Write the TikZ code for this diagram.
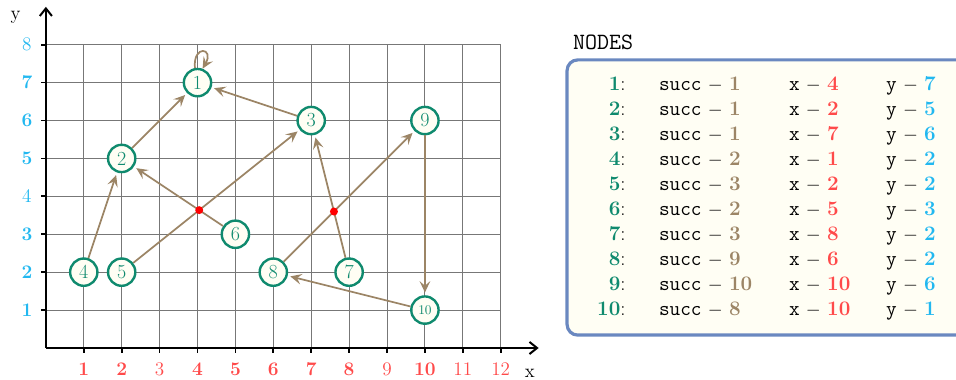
\documentclass[tikz,border=0pt]{standalone}
\usepackage{xcolor}
\usepackage{tikz}
\usetikzlibrary{arrows.meta, intersections}
\definecolor{nodegreen}{HTML}{0F8A6E}
\definecolor{edgetan}{HTML}{9C8566}
\definecolor{xred}{HTML}{FF4A4A}
\definecolor{yblue}{HTML}{22B8F0}
\definecolor{gridgray}{HTML}{777777}
\definecolor{boxblue}{HTML}{6A88C0}
\definecolor{ivory}{HTML}{FFFEF4}
\newcommand{\tabval}[2]{\textcolor{#1}{\textbf{#2}}}

\begin{document}
\begin{tikzpicture}[
        vertex/.style={
            circle,
            draw=nodegreen,
            line width=1.8pt,
            fill=ivory,
            text=nodegreen,
            minimum size=0.72cm,
            inner sep=0pt,
            font=\fontsize{15}{17}\selectfont
        },
        edge/.style={-{Stealth[length=3mm, width=2.8mm, inset=1.2mm]}, line width=1.3pt, draw=edgetan, shorten >=2pt},
        axis/.style={-{Straight Barb[length=2mm, width=3.2mm]}, line width=1.5pt},
        crossdot/.style={circle, fill=red, minimum size=6pt, inner sep=0pt},
        rowtext/.style={font=\fontsize{15.5}{18}\selectfont, inner sep=0pt}
    ]
        \useasboundingbox (-1.21,-0.84) rectangle (24.01,9.18);

        \draw[gridgray, line width=0.7pt] (0,0) grid (12,8);
        \draw[axis] (0,0) -- (13,0);
        \draw[axis] (0,0) -- (0,9);
        \foreach \i in {1,...,12}
            \draw[line width=1.3pt] (\i,0) -- (\i,-0.13);
        \foreach \j in {1,...,8}
            \draw[line width=1.3pt] (0,\j) -- (-0.13,\j);
        \foreach \i/\w in {1/\bfseries,2/\bfseries,3/,4/\bfseries,5/\bfseries,6/\bfseries,7/\bfseries,8/\bfseries,9/,10/\bfseries,11/,12/}
            \node[font=\Large\w, text=xred] (xlab\i) at (\i,-0.55) {\i};
        \foreach \j/\w in {1/\bfseries,2/\bfseries,3/\bfseries,4/,5/\bfseries,6/\bfseries,7/\bfseries,8/}
            \node[font=\Large\w, text=yblue] (ylab\j) at (-0.5,\j) {\j};
        \node[font=\Large, inner sep=0pt] (xname) at (12.77,-0.68) {x};
        \node[font=\Large, inner sep=0pt] (yname) at (-0.8,8.72) {y};

        \node[vertex] (n1) at (4,7) {1};
        \node[vertex] (n2) at (2,5) {2};
        \node[vertex] (n3) at (7,6) {3};
        \node[vertex] (n4) at (1,2) {4};
        \node[vertex] (n5) at (2,2) {5};
        \node[vertex] (n6) at (5,3) {6};
        \node[vertex] (n7) at (8,2) {7};
        \node[vertex] (n8) at (6,2) {8};
        \node[vertex] (n9) at (10,6) {9};
        \node[vertex, font=\normalsize] (n10) at (10,1) {10};

        \draw[edge, shorten >=0pt] (n1.100) to[out=95, in=60, looseness=8] (n1.70);
        \draw[edge] (n2) -- (n1);
        \draw[edge] (n3) -- (n1);
        \draw[edge] (n4) -- (n2);
        \draw[edge, name path=e53] (n5) -- (n3);
        \draw[edge, name path=e62] (n6) -- (n2);
        \draw[edge, name path=e73] (n7) -- (n3);
        \draw[edge, name path=e89] (n8) -- (n9);
        \draw[edge] (n9) -- (n10);
        \draw[edge] (n10) -- (n8);

        \path[name intersections={of=e53 and e62, by=cross1}];
        \path[name intersections={of=e73 and e89, by=cross2}];
        \node[crossdot] (dot1) at (cross1) {};
        \node[crossdot] (dot2) at (cross2) {};

        \node[font=\fontsize{17.5}{20}\selectfont\ttfamily, anchor=west, inner sep=0pt] (title) at (13.9,8.07) {NODES};
        \draw[boxblue, line width=2.4pt, fill=ivory, rounded corners=8pt] (13.75,0.34) rectangle (25,7.6);

        \foreach \n/\s/\xv/\yv [count=\i] in {1/1/4/7, 2/1/2/5, 3/1/7/6, 4/2/1/2, 5/3/2/2, 6/2/5/3, 7/3/8/2, 8/9/6/2, 9/10/10/6, 10/8/10/1} {
            \node[rowtext, anchor=base east] (num\n) at (15.3,{6.79-0.66*(\i-1)}) {\tabval{nodegreen}{\n}:};
            \node[rowtext, anchor=base west] (succ\n) at (16.17,{6.79-0.66*(\i-1)}) {\texttt{succ} $-$ \tabval{edgetan}{\s}};
            \node[rowtext, anchor=base west] (xval\n) at (19.6,{6.79-0.66*(\i-1)}) {\texttt{x} $-$ \tabval{xred}{\xv}};
            \node[rowtext, anchor=base west] (yval\n) at (22.16,{6.79-0.66*(\i-1)}) {\texttt{y} $-$ \tabval{yblue}{\yv}};
        }
    \end{tikzpicture}
\end{document}
